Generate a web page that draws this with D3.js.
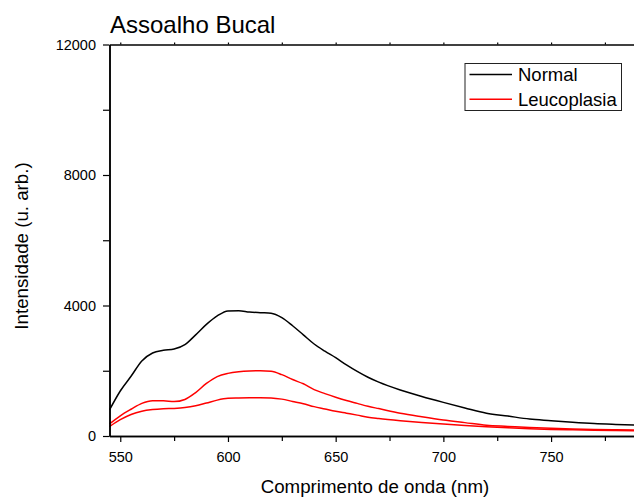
<!DOCTYPE html>
<html>
<head>
<meta charset="utf-8">
<script src="https://cdn.jsdelivr.net/npm/d3@7"></script>
<style>
  html, body { margin: 0; padding: 0; background: #fff; }
  svg { display: block; font-family: "Liberation Sans", Arial, sans-serif; }
</style>
</head>
<body>
<svg id="chart" width="634" height="498"></svg>
<script>
// ---- data ----
const wavelengths = [545,550,555,560,565,570,575,580,585,590,595,600,605,610,615,620,625,630,635,640,645,650,655,660,665,670,680,690,700,710,720,730,740,750,760,770,780,790];
const normal = [800,1380,1830,2300,2545,2625,2665,2800,3100,3420,3680,3835,3840,3800,3780,3765,3630,3380,3100,2820,2600,2400,2180,1980,1800,1650,1410,1210,1030,860,700,610,520,470,420,380,355,335];
const leucoplasiaA = [370,620,820,1000,1080,1080,1055,1120,1330,1610,1820,1920,1970,1995,2003,1985,1880,1730,1600,1420,1300,1190,1090,1000,910,840,700,590,490,410,330,295,260,235,215,200,190,182];
const leucoplasiaB = [290,500,660,760,810,835,845,870,925,1010,1100,1155,1165,1172,1175,1168,1130,1060,990,900,830,760,700,640,575,535,470,415,368,325,285,250,220,200,188,178,170,163];
const xTickValues = [550,600,650,700,750];
const xMinorValues = [575,625,675,725,775];
const yTickValues = [0,4000,8000,12000];
const yMinorValues = [2000,6000,10000];
const seriesNames = ["Normal","Leucoplasia"];
const chartTitle = "Assoalho Bucal";
const xTitle = "Comprimento de onda (nm)";
const yTitle = "Intensidade (u. arb.)";

const series = [
  {name: "Normal", values: normal, color: "#000000"},
  {name: "Leucoplasia", values: leucoplasiaA, color: "#ff0000"},
  {name: "Leucoplasia", values: leucoplasiaB, color: "#ff0000"}
];

const svg = d3.select("#chart");
const mLeft = 109.5, mTop = 44.5, mBottom = 436;
const x = d3.scaleLinear().domain([545, 790]).range([mLeft, mLeft + 245 * 2.154]);
const y = d3.scaleLinear().domain([0, 12000]).range([mBottom, mTop]);

// curves
const line = d3.line()
  .x((d, i) => x(wavelengths[i]))
  .y(d => y(d))
  .curve(d3.curveMonotoneX);

svg.append("g").selectAll("path").data(series).join("path")
  .attr("d", d => line(d.values))
  .attr("fill", "none")
  .attr("stroke", d => d.color)
  .attr("stroke-width", 1.5);

// axes
const axisStyle = g => {
  g.selectAll(".domain").attr("stroke", "#000").attr("stroke-width", 1.5);
  g.selectAll(".tick line").attr("stroke", "#000").attr("stroke-width", 1.2);
  g.selectAll("text").attr("fill", "#000").style("font-size", "14.5px")
    .style("font-family", "'Liberation Sans', Arial, sans-serif");
};

svg.append("g").attr("transform", `translate(0,${mBottom})`)
  .call(d3.axisBottom(x).tickValues(xTickValues).tickSize(6).tickPadding(10).tickSizeOuter(0).tickFormat(d3.format("d")))
  .call(axisStyle);
svg.append("g").attr("transform", `translate(0,${mBottom})`)
  .call(d3.axisBottom(x).tickValues(xMinorValues).tickSize(5).tickFormat("").tickSizeOuter(0))
  .call(axisStyle);

svg.append("g").attr("transform", `translate(0,${mTop})`)
  .call(d3.axisTop(x).tickValues(xTickValues.concat(xMinorValues)).tickSize(2).tickFormat("").tickSizeOuter(0))
  .call(axisStyle);

svg.append("g").attr("transform", `translate(${mLeft},0)`)
  .call(d3.axisLeft(y).tickValues(yTickValues).tickSize(6.5).tickPadding(7).tickSizeOuter(0).tickFormat(d3.format("d")))
  .call(axisStyle);
svg.append("g").attr("transform", `translate(${mLeft},0)`)
  .call(d3.axisLeft(y).tickValues(yMinorValues).tickSize(6.5).tickFormat("").tickSizeOuter(0))
  .call(axisStyle);

// titles
svg.append("text").attr("x", 110).attr("y", 33)
  .style("font-size", "24px").attr("fill", "#000").text(chartTitle);
svg.append("text").attr("x", 375).attr("y", 492.5).attr("text-anchor", "middle")
  .style("font-size", "18.7px").attr("fill", "#000").text(xTitle);
svg.append("text").attr("transform", "translate(28.3,246) rotate(-90)").attr("text-anchor", "middle")
  .style("font-size", "18.7px").attr("fill", "#000").text(yTitle);

// legend
const lg = svg.append("g");
lg.append("rect").attr("x", 465).attr("y", 63.5).attr("width", 156.5).attr("height", 47)
  .attr("fill", "#fff").attr("stroke", "#222").attr("stroke-width", 1);
const legendItems = [{name: seriesNames[0], color: "#000000"}, {name: seriesNames[1], color: "#ff0000"}];
legendItems.forEach((d, i) => {
  const cy = 74.5 + i * 24.8;
  lg.append("line").attr("x1", 469.5).attr("x2", 512).attr("y1", cy).attr("y2", cy)
    .attr("stroke", d.color).attr("stroke-width", 1.5);
  lg.append("text").attr("x", 518).attr("y", cy + 6.8).style("font-size", "18.5px")
    .attr("fill", "#000").text(d.name);
});
</script>
</body>
</html>
